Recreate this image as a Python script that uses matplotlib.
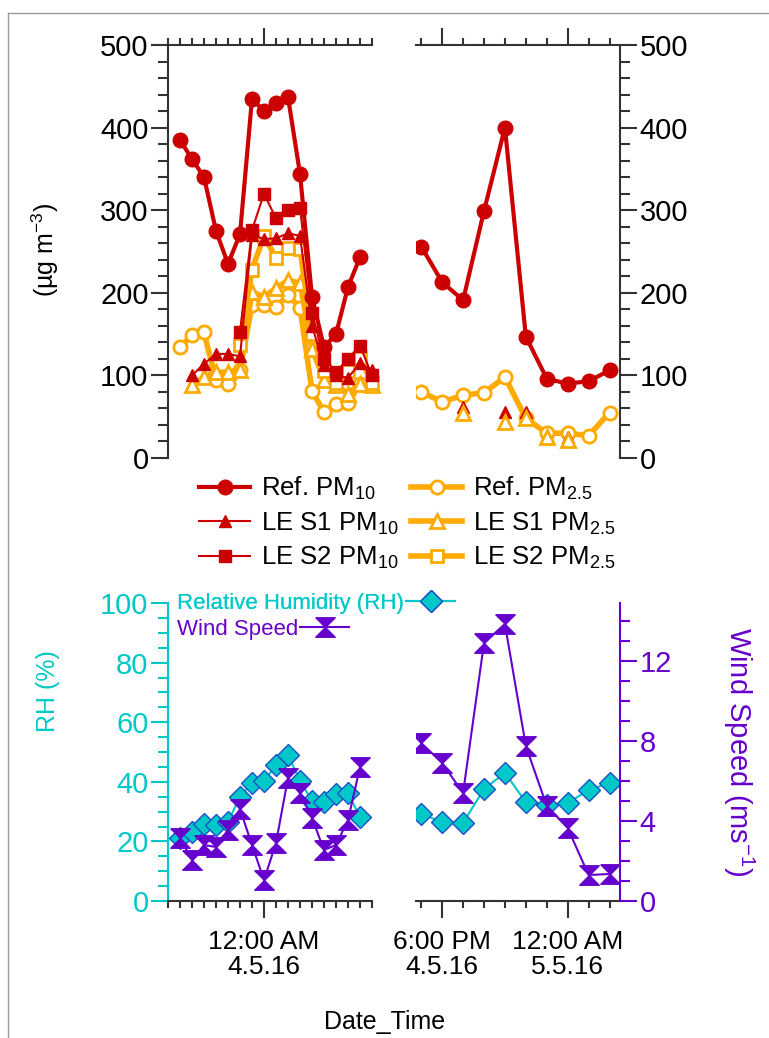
import numpy as np
import matplotlib.pyplot as plt
from matplotlib.lines import Line2D
from matplotlib.ticker import MultipleLocator, FixedLocator

plt.rcParams['font.family'] = ['Liberation Sans', 'DejaVu Sans']
plt.rcParams['mathtext.default'] = 'regular'

nan = np.nan

# hours counted from 12:00 AM 4.5.16
hrs_ref_1 = np.arange(-7, 9)
hrs_le_1 = np.arange(-6, 10)
hrs_2 = np.arange(17, 27)

# PM, first night (µg m-3)
ref_pm10_1 = [385, 362, 340, 275, 235, 271, 435, 420, 430, 437, 344, 195, 134, 150, 207, 243]
ref_pm25_1 = [134, 149, 152, 94, 90, 107, 185, 185, 183, 197, 182, 81, 56, 65, 66, 90]
le1_pm10_1 = [100, 114, 126, 126, 123, 270, 265, 266, 272, 269, 160, 112, 100, 97, 115, 106]
le2_pm10_1 = [nan, nan, nan, nan, 153, 276, 320, 290, 300, 303, 176, 120, 104, 120, 136, 100]
le1_pm25_1 = [88, 98, 104, 104, 107, 201, 195, 206, 215, 212, 132, 95, 88, 78, 90, 88]
le2_pm25_1 = [nan, nan, nan, nan, 137, 228, 269, 242, 254, 253, 150, 105, 91, 105, 121, 91]

# PM, second night
ref_pm10_2 = [256, 213, 191, 299, 400, 147, 96, 90, 93, 106]
ref_pm25_2 = [80, 68, 76, 79, 98, 48, 30, 30, 27, 55]
le1_pm10_2 = [nan, nan, 62, nan, 56, 56, 27, 25, nan, nan]
le1_pm25_2 = [nan, nan, 54, nan, 44, 48, 25, 22, nan, nan]

# meteorology
rh_1 = [21, 23, 26, 25.5, 26.5, 35, 39.6, 40.3, 45.6, 49, 40.3, 33.6, 33.2, 35.9, 36.2, 28.2]
ws_1 = [3.15, 2.05, 2.8, 2.7, 3.55, 4.6, 2.8, 1.05, 2.9, 6.15, 5.4, 4.15, 2.55, 2.8, 4.05, 6.7]
rh_2 = [29.2, 26.5, 26.2, 37.6, 43, 33.2, 32.2, 32.9, 37.2, 39.6]
ws_2 = [7.9, 6.9, 5.4, 12.9, 13.85, 7.75, 4.75, 3.65, 1.3, 1.35]

tick_pos_1 = [0]
tick_lab_1 = ['12:00 AM\n4.5.16']
tick_pos_2 = [18, 24]
tick_lab_2 = ['6:00 PM\n4.5.16', '12:00 AM\n5.5.16']

RED = '#cc0000'
ORANGE = '#ffaa00'
CYAN = '#00c8c8'
PURPLE = '#6600cc'
GRAY = '#333333'

W, H = 769, 1038
fig = plt.figure(figsize=(W / 100, H / 100), dpi=100)


def px_axes(x0, x1, y0, y1):
    return fig.add_axes([x0 / W, 1 - y1 / H, (x1 - x0) / W, (y1 - y0) / H])


ax1 = px_axes(168, 372, 45, 458)
ax2 = px_axes(416, 620, 45, 458)
ax3 = px_axes(168, 372, 603, 901)
ax4 = px_axes(416, 620, 603, 901)

for ax in (ax1, ax2, ax3, ax4):
    ax.patch.set_alpha(0)
    for s in ax.spines.values():
        s.set_visible(False)
        s.set_linewidth(1.5)
        s.set_color(GRAY)

# x axes
for ax, lim, pos in ((ax1, (-8, 9), tick_pos_1), (ax2, (16.75, 26.5), tick_pos_2),
                     (ax3, (-8, 9), tick_pos_1), (ax4, (16.75, 26.5), tick_pos_2)):
    ax.set_xlim(*lim)
    ax.xaxis.set_major_locator(FixedLocator(pos))
    ax.xaxis.set_minor_locator(MultipleLocator(1))
    ax.tick_params(axis='x', which='major', length=12, width=1.5, color=GRAY, direction='out')
    ax.tick_params(axis='x', which='minor', length=5, width=1.5, color=GRAY, direction='out')

for ax in (ax1, ax2):
    ax.spines['top'].set_visible(True)
    ax.xaxis.tick_top()
    ax.tick_params(axis='x', which='both', labeltop=False, labelbottom=False)
    ax.set_ylim(0, 500)
    ax.yaxis.set_major_locator(MultipleLocator(100))
    ax.yaxis.set_minor_locator(MultipleLocator(20))
    ax.tick_params(axis='y', which='major', length=12, width=1.5, color=GRAY, labelsize=21, pad=2)
    ax.tick_params(axis='y', which='minor', length=7, width=1.5, color=GRAY)

ax1.spines['left'].set_visible(True)
ax2.spines['right'].set_visible(True)
ax2.yaxis.tick_right()

for ax, lab in ((ax3, tick_lab_1), (ax4, tick_lab_2)):
    ax.spines['bottom'].set_visible(True)
    ax.set_xticklabels(lab, fontsize=19, linespacing=1.05)
    ax.tick_params(axis='x', which='major', pad=9)

# PM panels
ax1.plot(hrs_ref_1, ref_pm25_1, color=ORANGE, lw=4, marker='o', ms=9.5, mfc='white', mew=2, clip_on=False)
ax1.plot(hrs_le_1, le1_pm25_1, color=ORANGE, lw=4, marker='^', ms=9.5, mfc='white', mew=2, clip_on=False)
ax1.plot(hrs_le_1, le2_pm25_1, color=ORANGE, lw=4, marker='s', ms=8.5, mfc='white', mew=2, clip_on=False)
ax1.plot(hrs_ref_1, ref_pm10_1, color=RED, lw=3, marker='o', ms=10.5, clip_on=False)
ax1.plot(hrs_le_1, le1_pm10_1, color=RED, lw=1.5, marker='^', ms=9, clip_on=False)
ax1.plot(hrs_le_1, le2_pm10_1, color=RED, lw=1.5, marker='s', ms=8, clip_on=False)

ax2.plot(hrs_2, ref_pm25_2, color=ORANGE, lw=4, marker='o', ms=9.5, mfc='white', mew=2)
ax2.plot(hrs_2, le1_pm10_2, color=RED, ls='none', marker='^', ms=9)
ax2.plot(hrs_2, le1_pm25_2, color=ORANGE, ls='none', marker='^', ms=9.5, mfc='white', mew=2)
ax2.plot(hrs_2, ref_pm10_2, color=RED, lw=3, marker='o', ms=10.5)

handles = [
    Line2D([], [], color=RED, lw=3, marker='o', ms=10.5),
    Line2D([], [], color=RED, lw=1.5, marker='^', ms=9),
    Line2D([], [], color=RED, lw=1.5, marker='s', ms=8),
    Line2D([], [], color=ORANGE, lw=4, marker='o', ms=9.5, mfc='white', mew=2),
    Line2D([], [], color=ORANGE, lw=4, marker='^', ms=9.5, mfc='white', mew=2),
    Line2D([], [], color=ORANGE, lw=4, marker='s', ms=8.5, mfc='white', mew=2),
]
labels = ['Ref. PM$_{10}$', 'LE S1 PM$_{10}$', 'LE S2 PM$_{10}$',
          'Ref. PM$_{2.5}$', 'LE S1 PM$_{2.5}$', 'LE S2 PM$_{2.5}$']
fig.legend(handles, labels, ncol=2, loc='center', bbox_to_anchor=(407 / W, 1 - 523 / H),
           frameon=False, fontsize=18.5, handlelength=2.0, handletextpad=0.4,
           columnspacing=0.5, labelspacing=0.33, borderpad=0)

fig.text(45 / W, 1 - 250 / H, '(µg m$^{-3}$)', rotation=90, ha='center', va='center', fontsize=18)

# RH / wind panels
bowtie = [(-1, 1), (1, 1), (0, 0), (1, -1), (-1, -1), (0, 0), (-1, 1)]

for ax, x, rh in ((ax3, hrs_ref_1, rh_1), (ax4, hrs_2, rh_2)):
    ax.set_ylim(0, 100)
    ax.plot(x, rh, color=CYAN, lw=1.5, marker='D', ms=11, mfc=CYAN, mec='#1f4fc8', mew=1)

ax3.spines['left'].set_visible(True)
ax3.spines['left'].set_color(CYAN)
ax3.yaxis.set_major_locator(MultipleLocator(20))
ax3.yaxis.set_minor_locator(MultipleLocator(5))
ax3.tick_params(axis='y', which='major', length=12, width=1.5, color=CYAN, labelcolor=CYAN, labelsize=21, pad=2)
ax3.tick_params(axis='y', which='minor', length=7, width=1.5, color=CYAN)
ax4.set_yticks([])

tw3 = ax3.twinx()
tw4 = ax4.twinx()
for tw, x, ws in ((tw3, hrs_ref_1, ws_1), (tw4, hrs_2, ws_2)):
    tw.set_ylim(0, 14.9)
    for s in tw.spines.values():
        s.set_visible(False)
    tw.plot(x, ws, color=PURPLE, lw=1.5, marker=bowtie, ms=14)
tw3.set_yticks([])
tw4.spines['right'].set_visible(True)
tw4.spines['right'].set_color(PURPLE)
tw4.spines['right'].set_linewidth(1.5)
tw4.yaxis.set_major_locator(MultipleLocator(4))
tw4.yaxis.set_minor_locator(MultipleLocator(1))
tw4.tick_params(axis='y', which='major', length=12, width=1.5, color=PURPLE, labelcolor=PURPLE, labelsize=21, pad=2)
tw4.tick_params(axis='y', which='minor', length=7, width=1.5, color=PURPLE)

leg1 = fig.legend([Line2D([], [], color=CYAN, lw=1.5, marker='D', ms=11, mfc=CYAN, mec='#1f4fc8', mew=1)],
                  ['Relative Humidity (RH)'], loc='upper left', bbox_to_anchor=(177 / W, 1 - 593 / H),
                  frameon=False, fontsize=16, markerfirst=False, handlelength=2.2, handletextpad=0.1,
                  borderpad=0, borderaxespad=0, labelcolor=CYAN)
leg2 = fig.legend([Line2D([], [], color=PURPLE, lw=1.5, marker=bowtie, ms=14)],
                  ['Wind Speed'], loc='upper left', bbox_to_anchor=(177 / W, 1 - 619 / H),
                  frameon=False, fontsize=16, markerfirst=False, handlelength=2.2, handletextpad=0.1,
                  borderpad=0, borderaxespad=0, labelcolor=PURPLE)
fig.add_artist(leg1)

fig.text(48 / W, 1 - 691 / H, 'RH (%)', rotation=90, ha='center', va='center', fontsize=18, color=CYAN)
fig.text(739 / W, 1 - 752 / H, 'Wind Speed (ms$^{-1}$)', rotation=270, ha='center', va='center',
         fontsize=21, color=PURPLE)
fig.text(385 / W, 1 - 1022 / H, 'Date_Time', ha='center', va='center', fontsize=18)

# thin frame
fig.add_artist(Line2D([8 / W, 8 / W], [0, 1 - 13 / H], color='#999999', lw=1, transform=fig.transFigure))
fig.add_artist(Line2D([8 / W, 1], [1 - 13 / H, 1 - 13 / H], color='#999999', lw=1, transform=fig.transFigure))

fig.savefig('out.png', dpi=100)
